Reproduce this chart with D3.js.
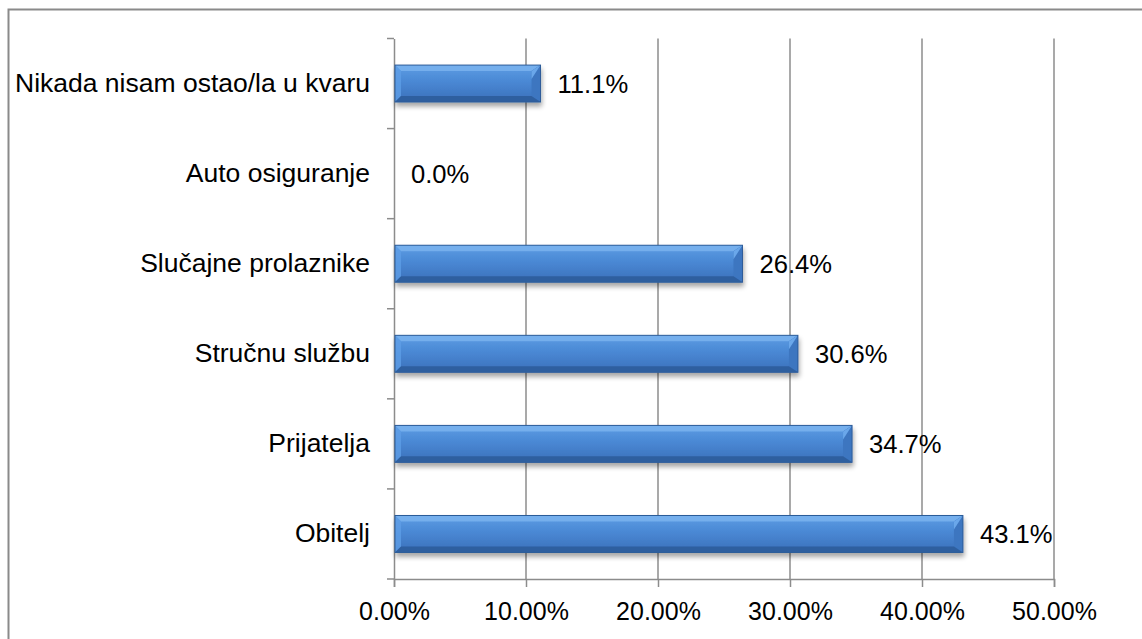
<!DOCTYPE html>
<html><head><meta charset="utf-8">
<script src="https://cdn.jsdelivr.net/npm/d3@7"></script>
<style>html,body{margin:0;padding:0;background:#fff;}svg{display:block;}</style>
</head><body>
<svg id="chart" width="1142" height="639"></svg>
<script>
const categories = ["Nikada nisam ostao/la u kvaru","Auto osiguranje","Slučajne prolaznike","Stručnu službu","Prijatelja","Obitelj"];
const values = [11.1, 0.0, 26.4, 30.6, 34.7, 43.1];
const xTicks = [0, 10, 20, 30, 40, 50];

(function () {
const svg = d3.select("#chart");
const font = "'Liberation Sans', Arial, sans-serif";
const fsTick = 25, fsCat = 26.5, fsVal = 25.6;
const pLeft = 394, pRight = 1054, pTop = 38.5, pBottom = 579;

// outer border
svg.append("rect").attr("x", 8.5).attr("y", 9.5).attr("width", 1200).attr("height", 700)
  .attr("fill", "none").attr("stroke", "#8a8a8a").attr("stroke-width", 2);

const x = d3.scaleLinear().domain([0, 50]).range([pLeft, pRight]);
const y = d3.scaleBand().domain(categories).range([pTop, pBottom]).paddingInner(0.59).paddingOuter(0.295);

const defs = svg.append("defs");
const g1 = defs.append("linearGradient").attr("id","barGrad").attr("x1",0).attr("y1",0).attr("x2",0).attr("y2",1);
g1.append("stop").attr("offset","0%").attr("stop-color","#5c9de4");
g1.append("stop").attr("offset","45%").attr("stop-color","#4a88d4");
g1.append("stop").attr("offset","100%").attr("stop-color","#3a70ba");
const f = defs.append("filter").attr("id","shadow").attr("x","-10%").attr("y","-30%").attr("width","130%").attr("height","180%");
f.append("feGaussianBlur").attr("in","SourceAlpha").attr("stdDeviation",2.5);
f.append("feOffset").attr("dx",1).attr("dy",4).attr("result","ob");
f.append("feComponentTransfer").append("feFuncA").attr("type","linear").attr("slope",0.35);
const fm = f.append("feMerge"); fm.append("feMergeNode"); fm.append("feMergeNode").attr("in","SourceGraphic");

// gridlines
svg.append("g").selectAll("line").data(xTicks.slice(1)).join("line")
  .attr("x1", d => x(d)).attr("x2", d => x(d)).attr("y1", pTop).attr("y2", pBottom)
  .attr("stroke", "#8c8c8c").attr("stroke-width", 1.5);

// x axis
const xAxis = svg.append("g").attr("transform", `translate(0,${pBottom})`)
  .call(d3.axisBottom(x).tickValues(xTicks).tickSize(8).tickFormat(d => d.toFixed(2) + "%"));
xAxis.select(".domain").attr("stroke", "#8c8c8c").attr("stroke-width", 1.5);
xAxis.selectAll(".tick line").attr("stroke", "#8c8c8c").attr("stroke-width", 1.5);
xAxis.selectAll(".tick text").attr("font-family", font).attr("font-size", fsTick).attr("fill", "#000")
  .attr("y", 0).attr("dy", null).attr("transform", "translate(0,41)");

// y axis
const yAxis = svg.append("g").attr("transform", `translate(${pLeft},0)`)
  .call(d3.axisLeft(y).tickSize(0).tickPadding(24));
yAxis.select(".domain").attr("stroke", "#8c8c8c").attr("stroke-width", 1.5);
yAxis.selectAll(".tick text").attr("font-family", font).attr("font-size", fsCat).attr("fill", "#000");
// category boundary ticks
const bounds = d3.range(categories.length + 1).map(i => pTop + i * (pBottom - pTop) / categories.length);
svg.append("g").selectAll("line").data(bounds).join("line")
  .attr("x1", pLeft - 7).attr("x2", pLeft).attr("y1", d => d).attr("y2", d => d)
  .attr("stroke", "#8c8c8c").attr("stroke-width", 1.5);

// bars
const bars = svg.append("g").selectAll("g").data(categories.map((c, i) => ({c, v: values[i]})).filter(d => d.v > 0)).join("g")
  .attr("filter", "url(#shadow)");
bars.each(function(d) {
  const gg = d3.select(this);
  const x0 = x(0) + 1, x1 = x(d.v), y0 = y(d.c), h = y.bandwidth(), y1 = y0 + h;
  const b = Math.min(6, (x1 - x0) / 2), br = 9;
  gg.append("rect").attr("x", x0).attr("y", y0).attr("width", x1 - x0).attr("height", h).attr("fill", "url(#barGrad)");
  gg.append("polygon").attr("points", `${x0},${y0} ${x1},${y0} ${x1-br},${y0+b} ${x0+b},${y0+b}`).attr("fill", "#7ab3ef").attr("opacity", 0.85);
  gg.append("polygon").attr("points", `${x0},${y0} ${x0+b},${y0+b} ${x0+b},${y1-b} ${x0},${y1}`).attr("fill", "#5e9ee6").attr("opacity", 0.8);
  gg.append("polygon").attr("points", `${x1},${y0} ${x1},${y1} ${x1-br},${y1-b} ${x1-br},${y0+b}`).attr("fill", "#3d76c0");
  gg.append("polygon").attr("points", `${x1},${y0} ${x1-br},${y0+b} ${x1-br},${y0+b+8}`).attr("fill", "#6aa7ea");
  gg.append("polygon").attr("points", `${x0},${y1} ${x1},${y1} ${x1-br},${y1-b} ${x0+b},${y1-b}`).attr("fill", "#2f5f9f");
  gg.append("rect").attr("x", x0).attr("y", y0).attr("width", x1 - x0).attr("height", h)
    .attr("fill", "none").attr("stroke", "#2d5c99").attr("stroke-width", 1);
});

// value labels
svg.append("g").selectAll("text").data(categories.map((c, i) => ({c, v: values[i]}))).join("text")
  .attr("x", d => x(d.v) + 17).attr("y", d => y(d.c) + y.bandwidth() / 2).attr("dy", "0.36em")
  .attr("font-family", font).attr("font-size", fsVal).attr("fill", "#000")
  .text(d => d.v.toFixed(1) + "%");
})();
</script>
</body></html>
